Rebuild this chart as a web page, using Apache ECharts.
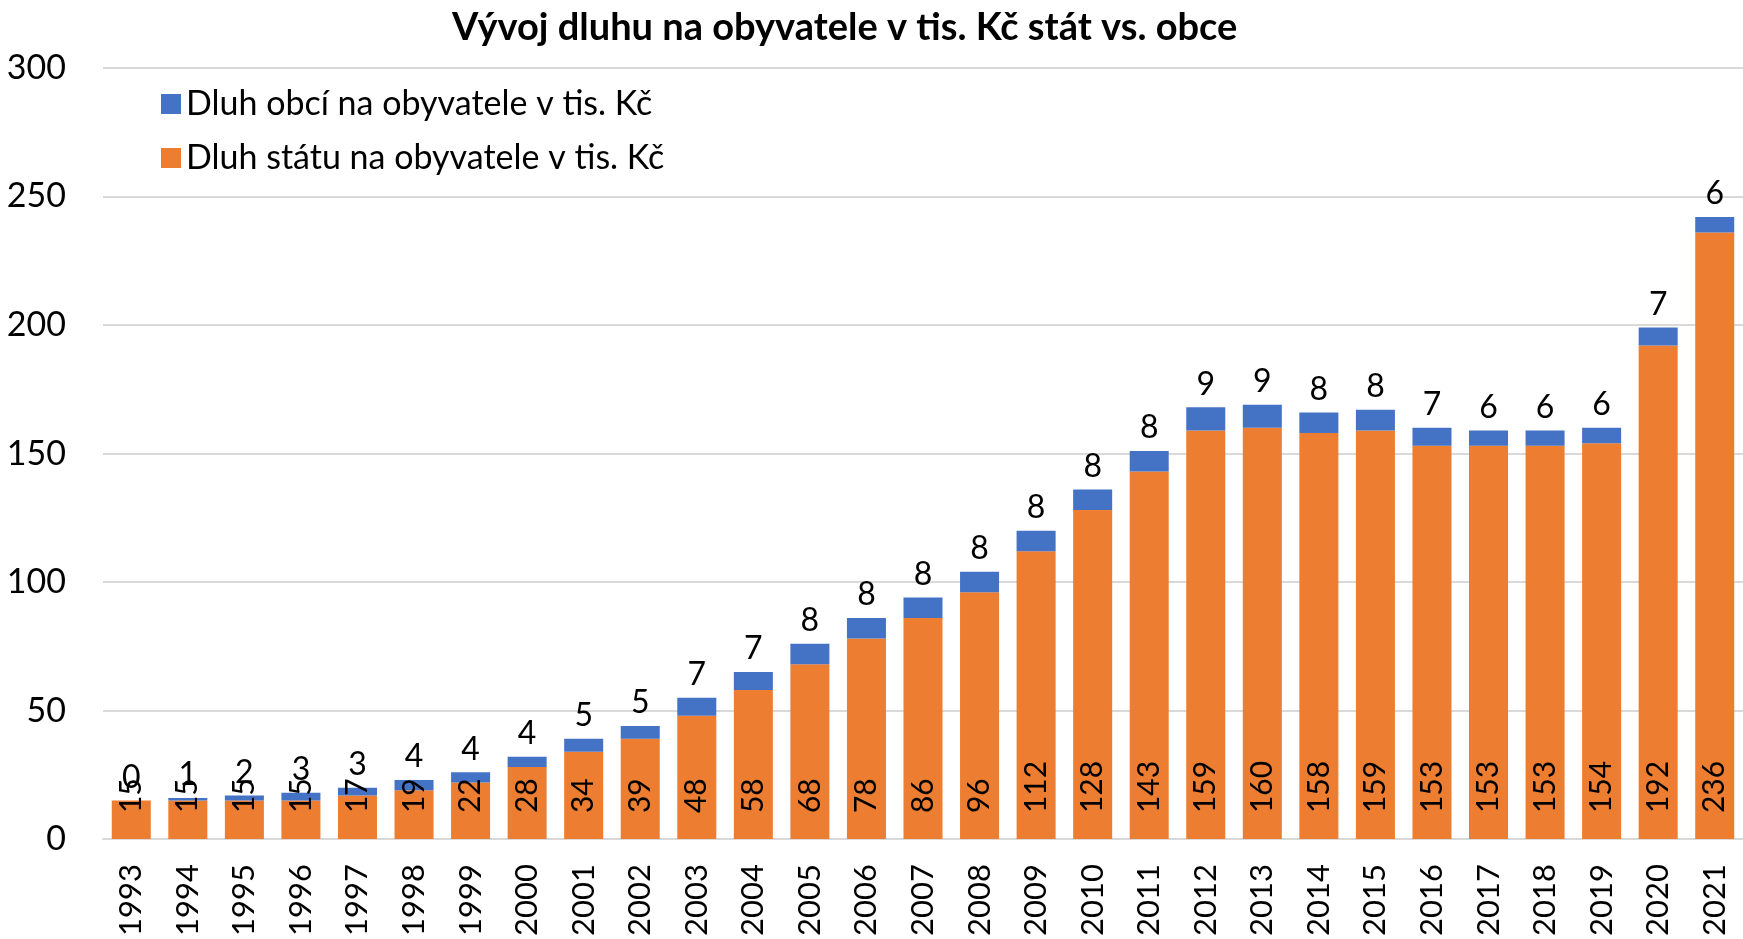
<!DOCTYPE html>
<html>
<head>
<meta charset="utf-8">
<style>
  html, body { margin: 0; padding: 0; background: #fff; }
  #chart { width: 1743px; height: 939px; }
</style>
<script src="https://cdn.jsdelivr.net/npm/echarts@6/dist/echarts.min.js"></script>
</head>
<body>
<div id="chart"></div>
<script>
// roky
const years = ["1993", "1994", "1995", "1996", "1997", "1998", "1999", "2000", "2001", "2002",
  "2003", "2004", "2005", "2006", "2007", "2008", "2009", "2010", "2011", "2012",
  "2013", "2014", "2015", "2016", "2017", "2018", "2019", "2020", "2021"];
// dluh státu na obyvatele (tis. Kč)
const statDebt = [15, 15, 15, 15, 17, 19, 22, 28, 34, 39, 48, 58, 68, 78, 86, 96, 112, 128, 143, 159,
  160, 158, 159, 153, 153, 153, 154, 192, 236];
// dluh obcí na obyvatele (tis. Kč)
const obceDebt = [0, 1, 2, 3, 3, 4, 4, 4, 5, 5, 7, 7, 8, 8, 8, 8, 8, 8, 8, 9,
  9, 8, 8, 7, 6, 6, 6, 7, 6];
const yTicks = { min: 0, max: 300, interval: 50 };

const FONT = "Lato";
const chart = echarts.init(document.getElementById("chart"));

chart.setOption({
  animation: false,
  textStyle: { fontFamily: FONT, color: "#000" },
  title: {
    text: "Vývoj dluhu na obyvatele v tis. Kč stát vs. obce",
    left: 452,
    top: 9,
    padding: 0,
    textStyle: { fontFamily: FONT, fontSize: 38, fontWeight: "bold", color: "#000" }
  },
  legend: {
    orient: "vertical",
    left: 156,
    top: 82,
    itemWidth: 20,
    itemHeight: 20,
    itemGap: 20,
    icon: "rect",
    data: ["Dluh obcí na obyvatele v tis. Kč", "Dluh státu na obyvatele v tis. Kč"],
    textStyle: { fontFamily: FONT, fontSize: 34, color: "#000" }
  },
  grid: {
    left: 103,
    right: -11,
    top: 68,
    bottom: 97
  },
  xAxis: {
    type: "category",
    data: years,
    axisTick: { show: false },
    axisLine: { lineStyle: { color: "#d9d9d9", width: 2 } },
    axisLabel: {
      rotate: 90,
      margin: 25,
      fontFamily: FONT,
      fontSize: 31,
      color: "#000",
      interval: 0
    }
  },
  yAxis: {
    type: "value",
    min: yTicks.min,
    max: yTicks.max,
    interval: yTicks.interval,
    axisLine: { show: false },
    axisTick: { show: false },
    splitLine: { lineStyle: { color: "#d9d9d9", width: 2 } },
    axisLabel: { fontFamily: FONT, fontSize: 34, color: "#000", margin: 37 }
  },
  series: [
    {
      name: "Dluh státu na obyvatele v tis. Kč",
      type: "bar",
      stack: "dluh",
      barWidth: "69%",
      data: statDebt,
      itemStyle: { color: "#ED7D31" },
      label: {
        show: true,
        position: "insideBottom",
        rotate: 90,
        align: "left",
        verticalAlign: "middle",
        distance: 26,
        fontFamily: FONT,
        fontSize: 30,
        color: "#000"
      }
    },
    {
      name: "Dluh obcí na obyvatele v tis. Kč",
      type: "bar",
      stack: "dluh",
      data: obceDebt,
      itemStyle: { color: "#4472C4" },
      label: {
        show: true,
        position: "top",
        distance: 7,
        fontFamily: FONT,
        fontSize: 32,
        color: "#000"
      }
    }
  ]
});
</script>
</body>
</html>
